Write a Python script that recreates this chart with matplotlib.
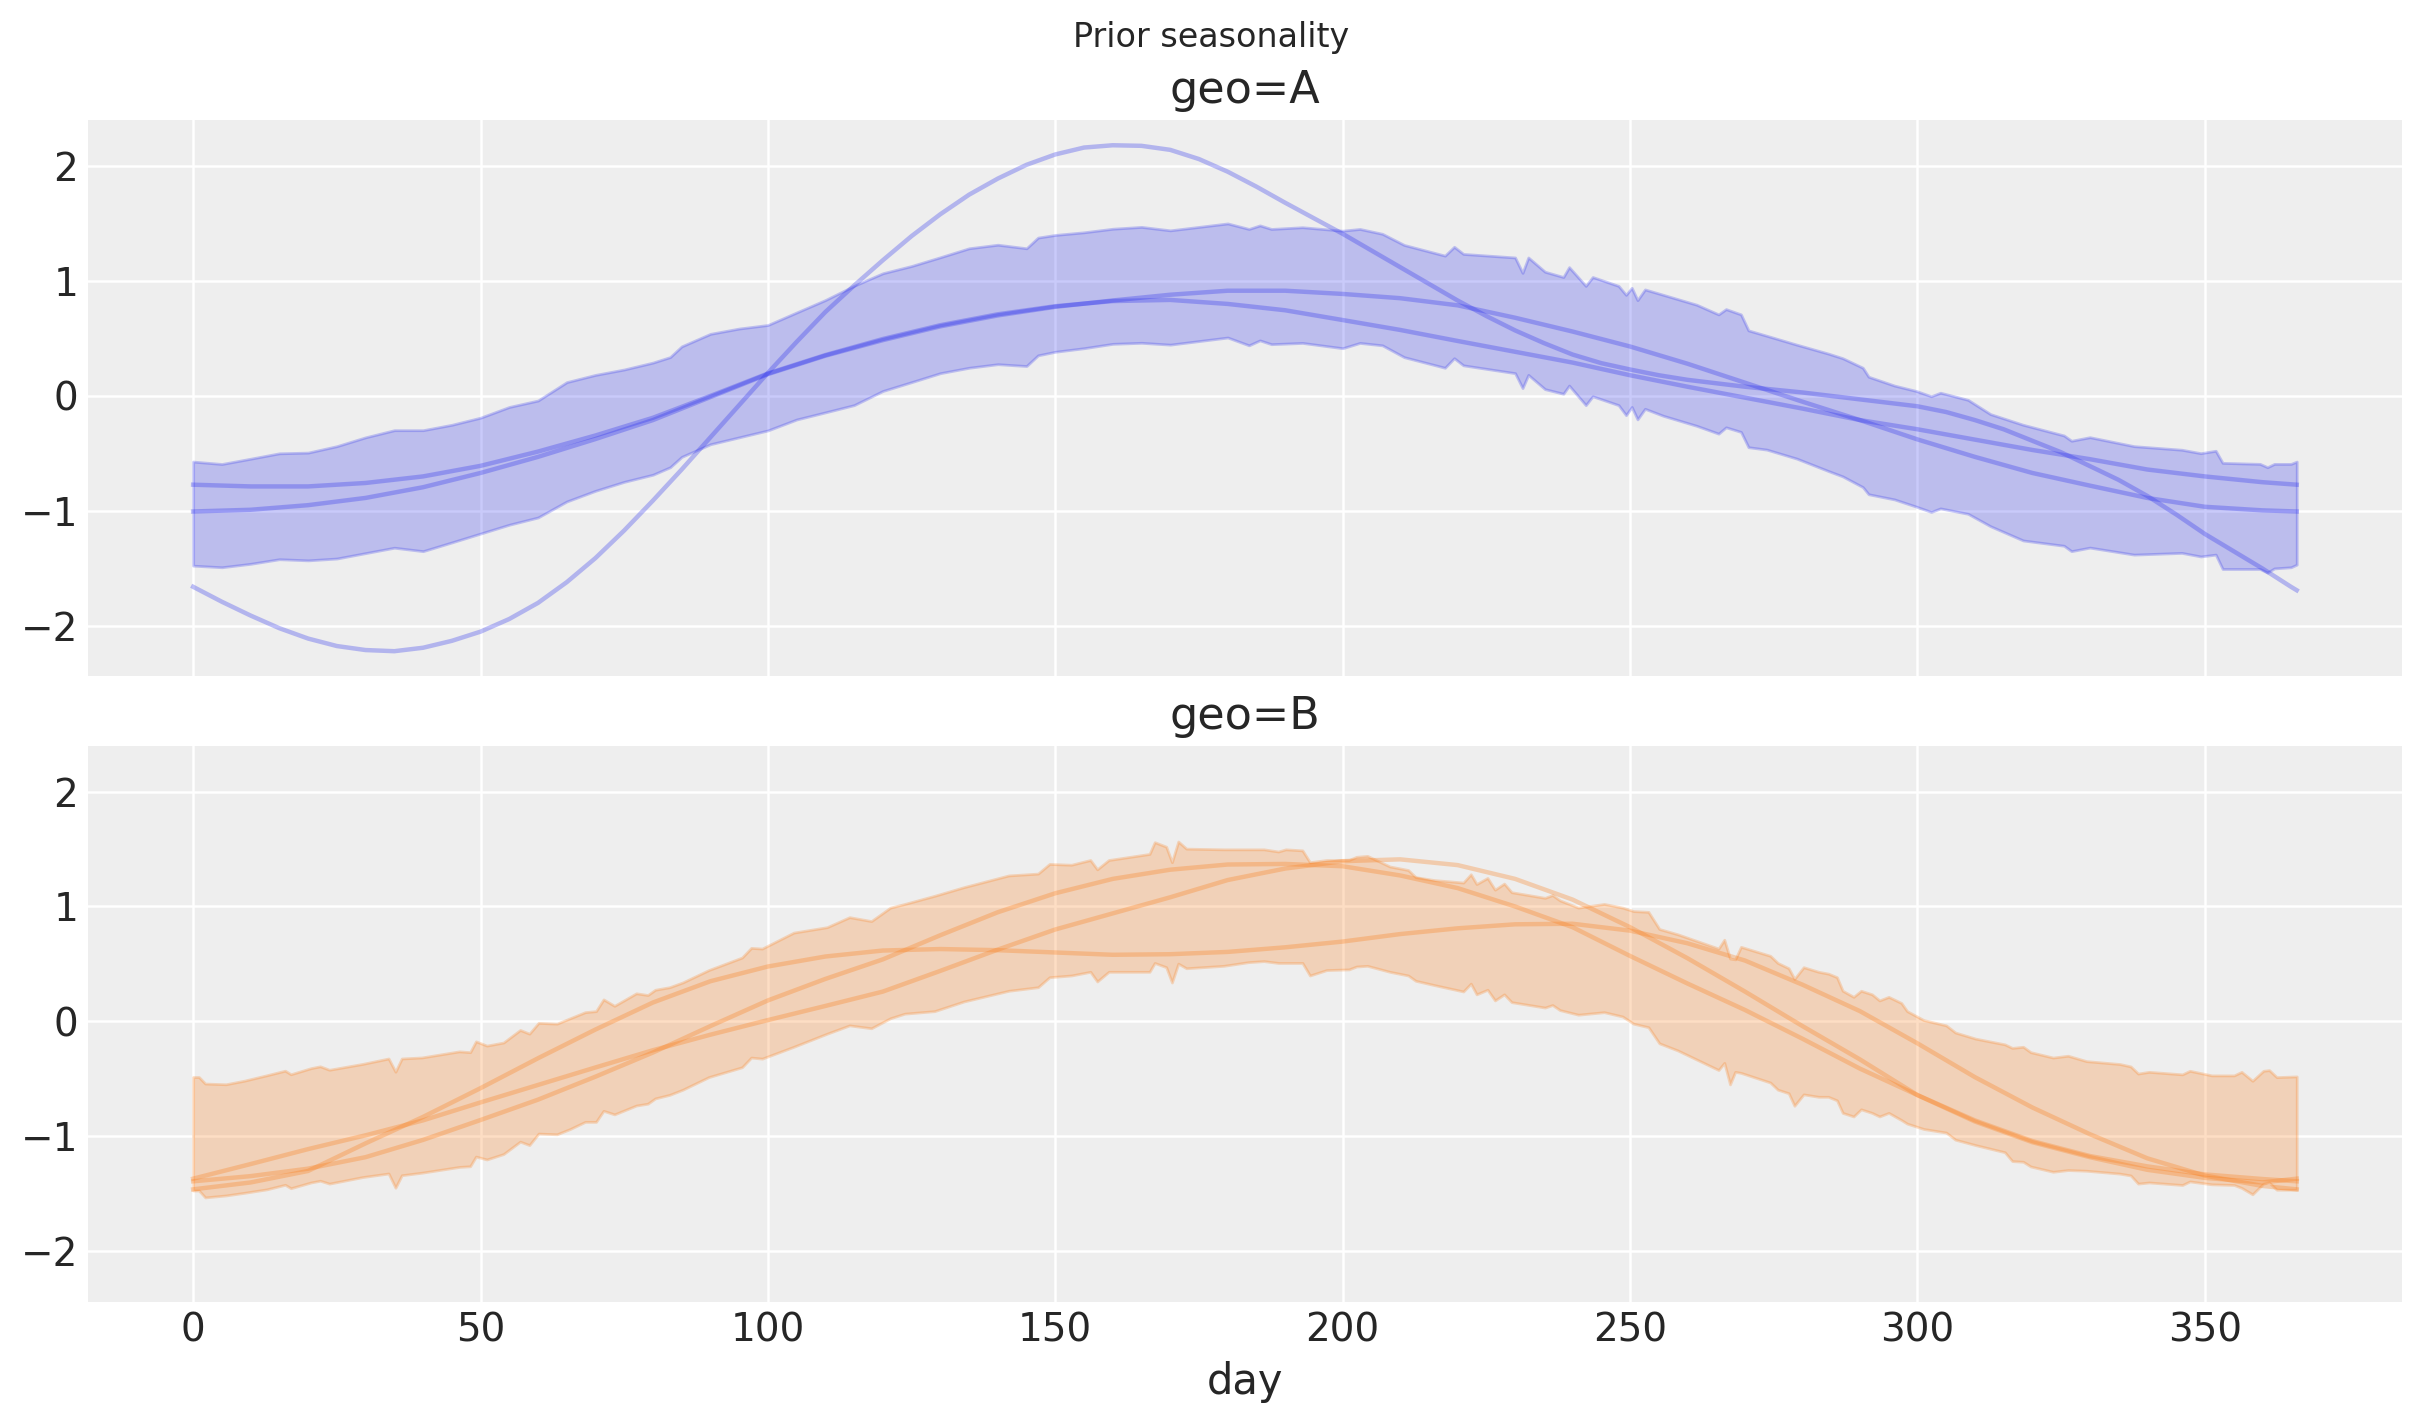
import numpy as np
import matplotlib
matplotlib.use("Agg")
import matplotlib.pyplot as plt

# arviz-darkgrid like look
plt.rcParams.update({
    "axes.facecolor": "#eeeeee",
    "axes.edgecolor": "white",
    "axes.grid": True,
    "axes.axisbelow": True,
    "grid.color": "white",
    "grid.linewidth": 0.9,
    "xtick.major.size": 0,
    "ytick.major.size": 0,
    "xtick.color": "#262626",
    "ytick.color": "#262626",
    "text.color": "#262626",
    "axes.labelcolor": "#262626",
    "font.family": ["DejaVu Sans"],
})

blue = "#2a2eec"
orange = "#fa7c17"

# ---- geo=A : hdi band (upper / lower share the same days) ----
a_days = [0, 5, 10, 15, 20, 25, 30, 35, 40, 45, 50, 55, 60, 65, 70, 75, 80, 83,
          85, 90, 95, 100, 105, 110, 115, 120, 125, 130, 135, 140, 145, 147, 150,
          155, 160, 165, 170, 175, 180, 183.7, 185.6, 187.6, 193, 200, 203, 206.9,
          210.7, 217.8, 219.4, 221, 230, 231.3, 232.3, 235.2, 238.4, 239.4, 242.3,
          243.5, 248, 249.3, 250.3, 251.3, 252.6, 255.8, 261.6, 265.4, 266.7, 269.3,
          270.6, 273.8, 279, 284.5, 287, 290.5, 291.5, 296, 299.8, 302.4, 304, 308.8,
          312.7, 318.4, 325.5, 326.8, 330, 337.7, 346, 349.3, 351.9, 353.1, 359.6,
          360.9, 362.1, 365, 366]
a_upper = [-0.571, -0.592, -0.546, -0.499, -0.493, -0.437, -0.36, -0.298, -0.298,
           -0.251, -0.189, -0.096, -0.04, 0.12, 0.183, 0.23, 0.29, 0.338,
           0.431, 0.54, 0.586, 0.617, 0.726, 0.834, 0.958, 1.067, 1.13, 1.206, 1.284,
           1.315, 1.284, 1.377, 1.40, 1.423, 1.454, 1.47, 1.44, 1.47, 1.50, 1.452,
           1.483, 1.452, 1.467, 1.437, 1.452, 1.41, 1.313, 1.22, 1.297, 1.235, 1.204,
           1.07, 1.204, 1.08, 1.034, 1.12, 0.957, 1.034, 0.957, 0.879, 0.94, 0.833,
           0.926, 0.879, 0.793, 0.709, 0.755, 0.709, 0.57, 0.523, 0.446, 0.368,
           0.328, 0.245, 0.167, 0.09, 0.043, -0.003, 0.028, -0.034, -0.158, -0.251,
           -0.344, -0.39, -0.359, -0.437, -0.468, -0.498, -0.477, -0.582, -0.591,
           -0.62, -0.591, -0.591, -0.571]
a_lower = [-1.476, -1.49, -1.46, -1.42, -1.43, -1.414, -1.367, -1.32, -1.35,
           -1.274, -1.197, -1.12, -1.057, -0.918, -0.825, -0.747, -0.685, -0.62,
           -0.53, -0.42, -0.36, -0.30, -0.205, -0.143, -0.08, 0.043, 0.12, 0.198,
           0.245, 0.276, 0.26, 0.353, 0.384, 0.415, 0.453, 0.462, 0.446, 0.477,
           0.508, 0.44, 0.483, 0.45, 0.461, 0.415, 0.461, 0.44, 0.337, 0.245, 0.328,
           0.266, 0.198, 0.068, 0.183, 0.059, 0.019, 0.09, -0.08, -0.003, -0.08,
           -0.167, -0.096, -0.204, -0.112, -0.173, -0.26, -0.328, -0.273, -0.313,
           -0.446, -0.467, -0.545, -0.653, -0.70, -0.793, -0.855, -0.90, -0.963,
           -1.009, -0.978, -1.025, -1.133, -1.257, -1.303, -1.35, -1.319, -1.38,
           -1.365, -1.396, -1.38, -1.505, -1.505, -1.536, -1.50, -1.49, -1.467]

# ---- sample curves ----
line_days = [0, 10, 20, 30, 40, 50, 60, 70, 80, 90, 100, 110, 120, 130, 140, 150,
             160, 170, 180, 190, 200, 210, 220, 230, 240, 250, 260, 270, 280, 290,
             300, 310, 320, 330, 340, 350, 360, 366]
fine_days = list(range(0, 366, 5)) + [366]

a_line1 = [-0.772, -0.787, -0.787, -0.757, -0.70, -0.608, -0.484, -0.344, -0.19,
           0.0, 0.195, 0.355, 0.495, 0.615, 0.71, 0.78, 0.825, 0.835, 0.80, 0.745,
           0.66, 0.574, 0.478, 0.384, 0.29, 0.18, 0.08, -0.015, -0.11, -0.21, -0.29,
           -0.38, -0.47, -0.55, -0.64, -0.70, -0.75, -0.772]
a_line2 = [-1.005, -0.99, -0.95, -0.887, -0.794, -0.67, -0.53, -0.375, -0.21,
           -0.01, 0.19, 0.35, 0.485, 0.605, 0.70, 0.775, 0.83, 0.88, 0.915, 0.915,
           0.887, 0.85, 0.788, 0.68, 0.56, 0.43, 0.28, 0.115, -0.05, -0.21, -0.378,
           -0.53, -0.67, -0.78, -0.887, -0.964, -0.995, -1.005]
# the wide-swinging sample, read every 5 days
a_line3 = [-1.66, -1.79, -1.91, -2.02, -2.11, -2.175, -2.21, -2.22, -2.19, -2.13,
           -2.05, -1.94, -1.80, -1.62, -1.41, -1.17, -0.91, -0.64, -0.36, -0.08,
           0.20, 0.47, 0.73, 0.96, 1.18, 1.39, 1.58, 1.75, 1.89, 2.01, 2.10, 2.16,
           2.18, 2.175, 2.14, 2.06, 1.95, 1.82, 1.68, 1.545, 1.41, 1.265, 1.12,
           0.975, 0.83, 0.695, 0.57, 0.46, 0.36, 0.285, 0.23, 0.18, 0.14, 0.11,
           0.08, 0.055, 0.03, 0.0, -0.03, -0.06, -0.09, -0.14, -0.21, -0.29, -0.39,
           -0.49, -0.61, -0.73, -0.87, -1.03, -1.20, -1.35, -1.50, -1.66, -1.69]

# ---- geo=B : hdi band ----
b_days = [0, 1, 2.1, 5.7, 8.9, 12.8, 16, 17, 20.5, 22.1, 23.7, 29.5, 34, 35.2, 36.3,
          39.8, 46.3, 48.2, 49.2, 51.1, 54, 56.9, 58.5, 60.1, 63.3, 65.6, 68.2, 70.1,
          71.4, 73.3, 77.1, 79.1, 80.4, 82.9, 85.2, 89.7, 95.5, 97.1, 99, 104.5,
          110.3, 114.2, 118, 121.3, 123.8, 129, 134.1, 141.9, 147, 149, 152.8, 156.1,
          157.3, 159.3, 166.4, 167.3, 169.3, 170.3, 171.4, 172.8, 179.3, 183.6, 186.3,
          188.8, 190.1, 193, 194.3, 197.2, 201.1, 202.4, 204.3, 208.2, 211.4, 212.7,
          215.9, 221, 222.3, 223.3, 225.2, 226.5, 228.1, 229.4, 235.2, 236.5, 237.8,
          241, 245.5, 248.7, 250.6, 253.2, 255.1, 258.3, 265.4, 266.4, 267.4, 268.3,
          269.3, 274.4, 275.7, 277.6, 278.6, 280.2, 282.8, 284.5, 286, 287, 288.9,
          290.2, 292.1, 293.4, 295, 297.2, 298.2, 301.1, 305, 306.6, 310.1, 315.2,
          316.5, 318.4, 319.7, 323.6, 326.2, 329.4, 335.2, 337.1, 338.4, 340.3, 346.1,
          347.4, 351.2, 355.1, 356.4, 358.3, 360.2, 361.2, 362.5, 366]
b_upper = [-0.483, -0.483, -0.54, -0.546, -0.515, -0.468, -0.428, -0.459, -0.406,
           -0.39, -0.42, -0.369, -0.322, -0.437, -0.322, -0.313, -0.26, -0.267,
           -0.173, -0.21, -0.183, -0.074, -0.106, -0.012, -0.019, 0.028, 0.081, 0.09,
           0.192, 0.136, 0.245, 0.23, 0.276, 0.298, 0.34, 0.447, 0.556, 0.64, 0.634,
           0.773, 0.82, 0.907, 0.873, 0.99, 1.022, 1.093, 1.168, 1.27, 1.286, 1.37,
           1.363, 1.404, 1.323, 1.404, 1.457, 1.559, 1.52, 1.385, 1.565, 1.503, 1.497,
           1.497, 1.497, 1.478, 1.497, 1.488, 1.385, 1.404, 1.404, 1.432, 1.44, 1.348,
           1.317, 1.255, 1.23, 1.208, 1.28, 1.195, 1.248, 1.146, 1.199, 1.124, 1.075,
           1.099, 1.053, 0.99, 1.022, 0.99, 0.96, 0.953, 0.804, 0.758, 0.634, 0.711,
           0.547, 0.54, 0.649, 0.571, 0.509, 0.463, 0.37, 0.472, 0.432, 0.416, 0.385,
           0.267, 0.214, 0.267, 0.236, 0.183, 0.214, 0.161, 0.09, 0.012, -0.034,
           -0.096, -0.149, -0.199, -0.23, -0.22, -0.267, -0.314, -0.298, -0.345,
           -0.37, -0.391, -0.453, -0.438, -0.46, -0.429, -0.469, -0.469, -0.438,
           -0.516, -0.429, -0.423, -0.484, -0.478]
b_lower = [-1.47, -1.47, -1.53, -1.513, -1.49, -1.46, -1.42, -1.45, -1.40, -1.385,
           -1.41, -1.353, -1.322, -1.446, -1.337, -1.315, -1.265, -1.259, -1.175,
           -1.2, -1.153, -1.045, -1.075, -0.975, -0.981, -0.935, -0.873, -0.873,
           -0.777, -0.808, -0.731, -0.715, -0.669, -0.638, -0.593, -0.484, -0.398,
           -0.314, -0.323, -0.22, -0.106, -0.034, -0.059, 0.028, 0.068, 0.09, 0.174,
           0.267, 0.298, 0.385, 0.40, 0.432, 0.348, 0.432, 0.432, 0.509, 0.472,
           0.339, 0.503, 0.463, 0.484, 0.516, 0.525, 0.509, 0.509, 0.509, 0.40, 0.447,
           0.453, 0.478, 0.484, 0.432, 0.40, 0.354, 0.317, 0.261, 0.329, 0.236, 0.276,
           0.183, 0.236, 0.168, 0.121, 0.143, 0.099, 0.059, 0.081, 0.043, -0.019,
           -0.05, -0.19, -0.252, -0.422, -0.36, -0.547, -0.438, -0.447, -0.531,
           -0.593, -0.624, -0.733, -0.634, -0.655, -0.655, -0.686, -0.795, -0.826,
           -0.764, -0.795, -0.826, -0.795, -0.857, -0.888, -0.935, -0.966, -1.028,
           -1.075, -1.137, -1.214, -1.22, -1.261, -1.307, -1.292, -1.298, -1.323,
           -1.339, -1.41, -1.40, -1.422, -1.391, -1.416, -1.422, -1.447, -1.503,
           -1.41, -1.40, -1.463, -1.463]

b_line1 = [-1.46, -1.40, -1.30, -1.06, -0.83, -0.58, -0.32, -0.07, 0.165, 0.35,
           0.478, 0.565, 0.617, 0.63, 0.62, 0.60, 0.58, 0.585, 0.605, 0.645, 0.695,
           0.76, 0.81, 0.845, 0.85, 0.79, 0.68, 0.53, 0.32, 0.09, -0.19, -0.484,
           -0.748, -0.98, -1.19, -1.34, -1.43, -1.46]
b_line2 = [-1.39, -1.345, -1.28, -1.18, -1.03, -0.857, -0.68, -0.48, -0.27, -0.04,
           0.183, 0.37, 0.54, 0.75, 0.95, 1.115, 1.24, 1.32, 1.365, 1.37, 1.35, 1.27,
           1.16, 1.00, 0.82, 0.57, 0.33, 0.10, -0.15, -0.41, -0.64, -0.86, -1.04,
           -1.17, -1.26, -1.33, -1.37, -1.39]
b_line3 = [-1.367, -1.24, -1.11, -0.99, -0.86, -0.704, -0.552, -0.40, -0.25, -0.115,
           0.012, 0.135, 0.26, 0.44, 0.625, 0.80, 0.94, 1.08, 1.23, 1.33, 1.394, 1.41,
           1.36, 1.24, 1.06, 0.82, 0.55, 0.26, -0.04, -0.33, -0.64, -0.87, -1.05,
           -1.18, -1.29, -1.36, -1.40, -1.367]

panels = [
    ("geo=A", blue, a_days, a_upper, a_lower,
     [(line_days, a_line1), (line_days, a_line2), (fine_days, a_line3)]),
    ("geo=B", orange, b_days, b_upper, b_lower,
     [(line_days, b_line1), (line_days, b_line2), (line_days, b_line3)]),
]

fig, axes = plt.subplots(2, 1, sharex=True, sharey=True, figsize=(12.115, 7.115), dpi=200)
fig.subplots_adjust(left=0.0363, right=0.9913, top=0.9157, bottom=0.085, hspace=0.124)

for ax, (title, color, days, up, lo, lines) in zip(axes, panels):
    ax.fill_between(days, lo, up, color=color, alpha=0.25, linewidth=1)
    for xd, vals in lines:
        ax.plot(xd, vals, color=color, alpha=0.3, linewidth=1.6)
    ax.set_title(title, fontsize=16)
    for s in ax.spines.values():
        s.set_visible(False)
    ax.tick_params(labelsize=14)

axes[1].set_xlabel("day", fontsize=15)
axes[1].set_xticks([0, 50, 100, 150, 200, 250, 300, 350])
axes[0].set_yticks([-2, -1, 0, 1, 2])
fig.suptitle("Prior seasonality", fontsize=12, y=0.985)

fig.savefig("out.png", dpi=200)
